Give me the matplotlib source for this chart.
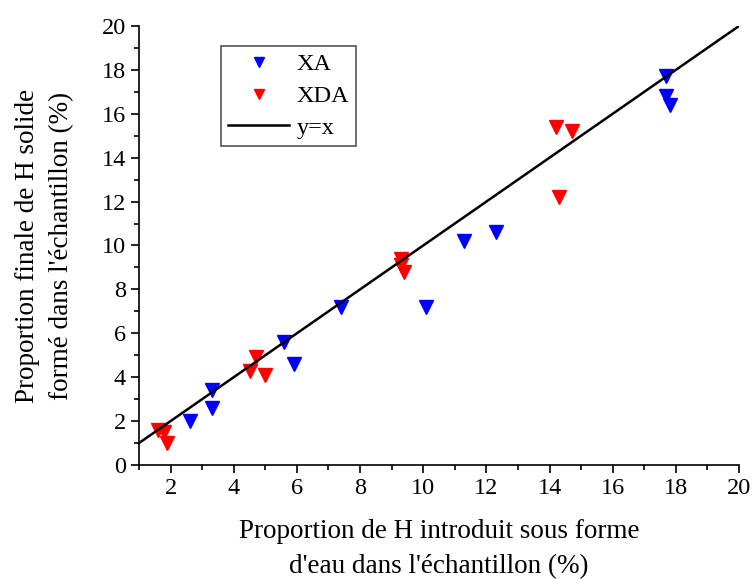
import numpy as np
import matplotlib
matplotlib.use('Agg')
import matplotlib.pyplot as plt
from matplotlib.ticker import MultipleLocator

# data
xa_x = [2.6, 3.3, 3.3, 5.6, 5.9, 7.4, 10.1, 11.3, 12.3, 17.7, 17.7, 17.8]
xa_y = [2.0, 2.6, 3.4, 5.6, 4.6, 7.2, 7.2, 10.2, 10.6, 17.7, 16.8, 16.4]
xda_x = [1.6, 1.8, 1.9, 4.5, 4.7, 5.0, 9.3, 9.3, 9.4, 14.2, 14.7, 14.3]
xda_y = [1.6, 1.5, 1.0, 4.3, 4.9, 4.1, 9.4, 9.1, 8.8, 15.4, 15.2, 12.2]
line_x = [1, 20]

plt.rcParams['font.family'] = ['Liberation Serif', 'DejaVu Serif']

fig = plt.figure(figsize=(7.53, 5.79), dpi=100)
ax = fig.add_axes([0.1846, 0.1969, 0.7968, 0.7582])

ax.plot(xa_x, xa_y, 'v', color='#0000ff', markersize=9.5, label='XA')
ax.plot(xda_x, xda_y, 'v', color='#ff0000', markersize=9.5, label='XDA')
ax.plot(line_x, line_x, '-', color='black', linewidth=1.8, label='y=x')

ax.set_xlim(1, 20)
ax.set_ylim(0, 20)
ax.xaxis.set_major_locator(MultipleLocator(2))
ax.xaxis.set_minor_locator(MultipleLocator(1))
ax.yaxis.set_major_locator(MultipleLocator(2))
ax.yaxis.set_minor_locator(MultipleLocator(1))
ax.tick_params(which='major', direction='out', length=6, width=1.2, labelsize=17.5)
ax.tick_params(which='minor', direction='out', length=3.5, width=1.2)
ax.spines['top'].set_visible(False)
ax.spines['right'].set_visible(False)
for s in ['left', 'bottom']:
    ax.spines[s].set_linewidth(1.2)

ax.set_xlabel("Proportion de H introduit sous forme\nd'eau dans l'échantillon (%)",
              fontsize=19.5, labelpad=14, linespacing=1.55)
ax.set_ylabel("Proportion finale de H solide\nformé dans l'échantillon (%)",
              fontsize=19.5, labelpad=20, linespacing=1.45)

leg = ax.legend(loc='upper left', bbox_to_anchor=(0.137, 0.954), fontsize=17.5,
                markerscale=0.7, fancybox=False, framealpha=1,
                edgecolor='#555555', borderpad=0.3, handlelength=2.5,
                handletextpad=0.3, labelspacing=0.4, borderaxespad=0)
leg.get_frame().set_linewidth(1.2)

fig.savefig('out.png', dpi=100)
